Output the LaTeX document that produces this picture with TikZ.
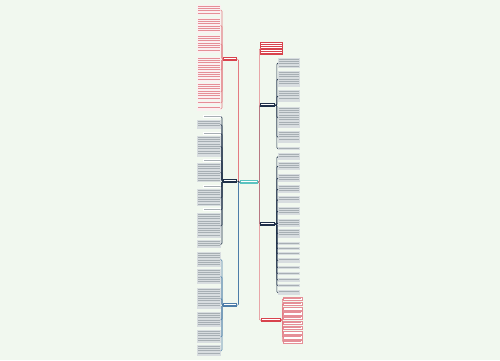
\documentclass[tikz,border=0pt]{standalone}
\usetikzlibrary{calc}
\definecolor{bgmint}{HTML}{F1F8EF}
\definecolor{mapred}{HTML}{D8434D}
\definecolor{mapnavy}{HTML}{1F3049}
\definecolor{mapblue}{HTML}{4D7DA8}
\definecolor{mapteal}{HTML}{5BC3C0}
\definecolor{leafgray}{HTML}{D8DDE0}
\definecolor{inkgray}{HTML}{A7AFB4}
\definecolor{leafpink}{HTML}{FBF0F1}
\definecolor{inkred}{HTML}{E58F97}
\tikzset{
 box/.style={draw=none, inner sep=0pt, anchor=north west},
 grayleaf/.style={box, fill=leafgray},
 pinkleaf/.style={box, fill=leafpink},
 headleaf/.style={box, fill=white},
 redleaf/.style={box, fill=white, draw=inkred, line width=0.3pt},
 wire/.style={line width=0.6pt, rounded corners=1pt},
}
% rows of text in a box: x, top, width, height, colour
\newcommand\leaflines[5]{%
 \pgfmathtruncatemacro\nlines{max(1,floor((#4-0.6)/2.3))}
 \foreach \k in {1,...,\nlines}{
  \draw[#5, line width=0.85pt] (#1+1,#2+2.3*\k-1.0) -- (#1+#3-1,#2+2.3*\k-1.0);
 }
}
\begin{document}
\begin{tikzpicture}[x=1pt,y=-1pt]
\fill[bgmint] (0,0) rectangle (500,360);
\useasboundingbox (0,0) rectangle (500,360);

% centre and main branches
\node[box, fill=mapteal, minimum width=18pt, minimum height=4pt] (centre) at (240,180) {};
\node[box, fill=mapred, minimum width=14pt, minimum height=4pt] (lred) at (223,57) {};
\node[box, fill=mapnavy, minimum width=14pt, minimum height=4pt] (lnavy) at (223,179) {};
\node[box, fill=mapblue, minimum width=14pt, minimum height=4pt] (lblue) at (223,303) {};
\node[box, fill=mapred, minimum width=23pt, minimum height=13pt] (rtop) at (260,42) {};
\node[box, fill=mapnavy, minimum width=15pt, minimum height=4pt] (rnavya) at (260,103) {};
\node[box, fill=mapnavy, minimum width=15pt, minimum height=4pt] (rnavyb) at (260,222) {};
\node[box, fill=mapred, minimum width=20pt, minimum height=4pt] (rred) at (261,318) {};
\leaflines{240}{180}{18}{4}{white}
\leaflines{223}{57}{14}{4}{white}
\leaflines{223}{179}{14}{4}{white}
\leaflines{223}{303}{14}{4}{white}
\leaflines{260}{42}{23}{13}{white}
\leaflines{260}{103}{15}{4}{white}
\leaflines{260}{222}{15}{4}{white}
\leaflines{261}{318}{20}{4}{white}

\draw[wire, mapred!70] (centre.west) -- ++(-1.5,0) |- (lred.east);
\draw[wire, mapnavy] (centre.west) -- ++(-1.5,0) |- (lnavy.east);
\draw[wire, mapblue] (centre.west) -- ++(-1.5,0) |- (lblue.east);
\draw[wire, mapnavy] (centre.east) -- ++(1,0) |- (rnavya.west);
\draw[wire, mapnavy] (centre.east) -- ++(1,0) |- (rnavyb.west);
\draw[wire, mapred!70] (centre.east) -- ++(1,0) |- (rtop.west);
\draw[wire, mapred!70] (centre.east) -- ++(1,0) |- (rred.west);

% left, red branch
\foreach \yt/\h [count=\i] in {5/10, 18/15, 35/18, 57/25, 83/17, 101/3, 106/5}{
 \node[pinkleaf, minimum width=24pt, minimum height=\h pt] (lr\i) at (197,\yt) {};
 \leaflines{197}{\yt}{24}{\h}{inkred}
 \draw[wire, mapred!70] (lred.west) -- ++(-1,0) |- (lr\i.east);
}

% left, navy branch
\foreach \yt/\h/\w/\st [count=\i] in {115/3/18/headleaf, 120/9/24/grayleaf,
  132/3/18/headleaf, 136/21/24/grayleaf, 159/3/18/headleaf, 163/19/24/grayleaf,
  185/3/18/headleaf, 189/17/24/grayleaf, 208/3/18/headleaf, 213/25/24/grayleaf,
  240/8/24/grayleaf}{
 \node[\st, minimum width=\w pt, minimum height=\h pt] (ln\i) at (221-\w,\yt) {};
 \leaflines{221-\w}{\yt}{\w}{\h}{inkgray}
 \draw[wire, mapnavy] (lnavy.west) -- ++(-1,0) |- (ln\i.east);
}

% left, blue branch
\foreach \yt/\h [count=\i] in {252/15, 269/15, 288/21, 312/15, 330/13, 345/11}{
 \node[grayleaf, minimum width=24pt, minimum height=\h pt] (lb\i) at (197,\yt) {};
 \leaflines{197}{\yt}{24}{\h}{inkgray}
 \draw[wire, mapblue] (lblue.west) -- ++(-1,0) |- (lb\i.east);
}

% right, first navy branch
\foreach \yt/\h [count=\i] in {58/10, 71/16, 90/12, 107/21, 131/12, 147/3}{
 \node[grayleaf, minimum width=22pt, minimum height=\h pt] (ra\i) at (278,\yt) {};
 \leaflines{278}{\yt}{22}{\h}{inkgray}
 \draw[wire, mapnavy] (rnavya.east) -- ++(1.5,0) |- (ra\i.west);
}

% right, second navy branch
\foreach \yt/\h [count=\i] in {153/7, 162/8, 174/8, 185/8, 196/7, 207/8, 219/8,
  229/9, 242/3, 247/3, 252/3, 258/5, 266/3, 272/3, 278/4, 284/3, 290/5}{
 \node[grayleaf, minimum width=22pt, minimum height=\h pt] (rb\i) at (278,\yt) {};
 \leaflines{278}{\yt}{22}{\h}{inkgray}
 \draw[wire, mapnavy] (rnavyb.east) -- ++(1.5,0) |- (rb\i.west);
}

% right, red branch
\foreach \i in {1,...,10}{
 \pgfmathsetmacro\yt{297+4.8*(\i-1)}
 \node[redleaf, minimum width=19pt, minimum height=3.2pt] (rr\i) at (283,\yt) {};
 \leaflines{283}{\yt}{19}{3.2}{inkred}
 \draw[wire, mapred!70] (rred.east) -- ++(1,0) |- (rr\i.west);
}
\end{tikzpicture}
\end{document}
